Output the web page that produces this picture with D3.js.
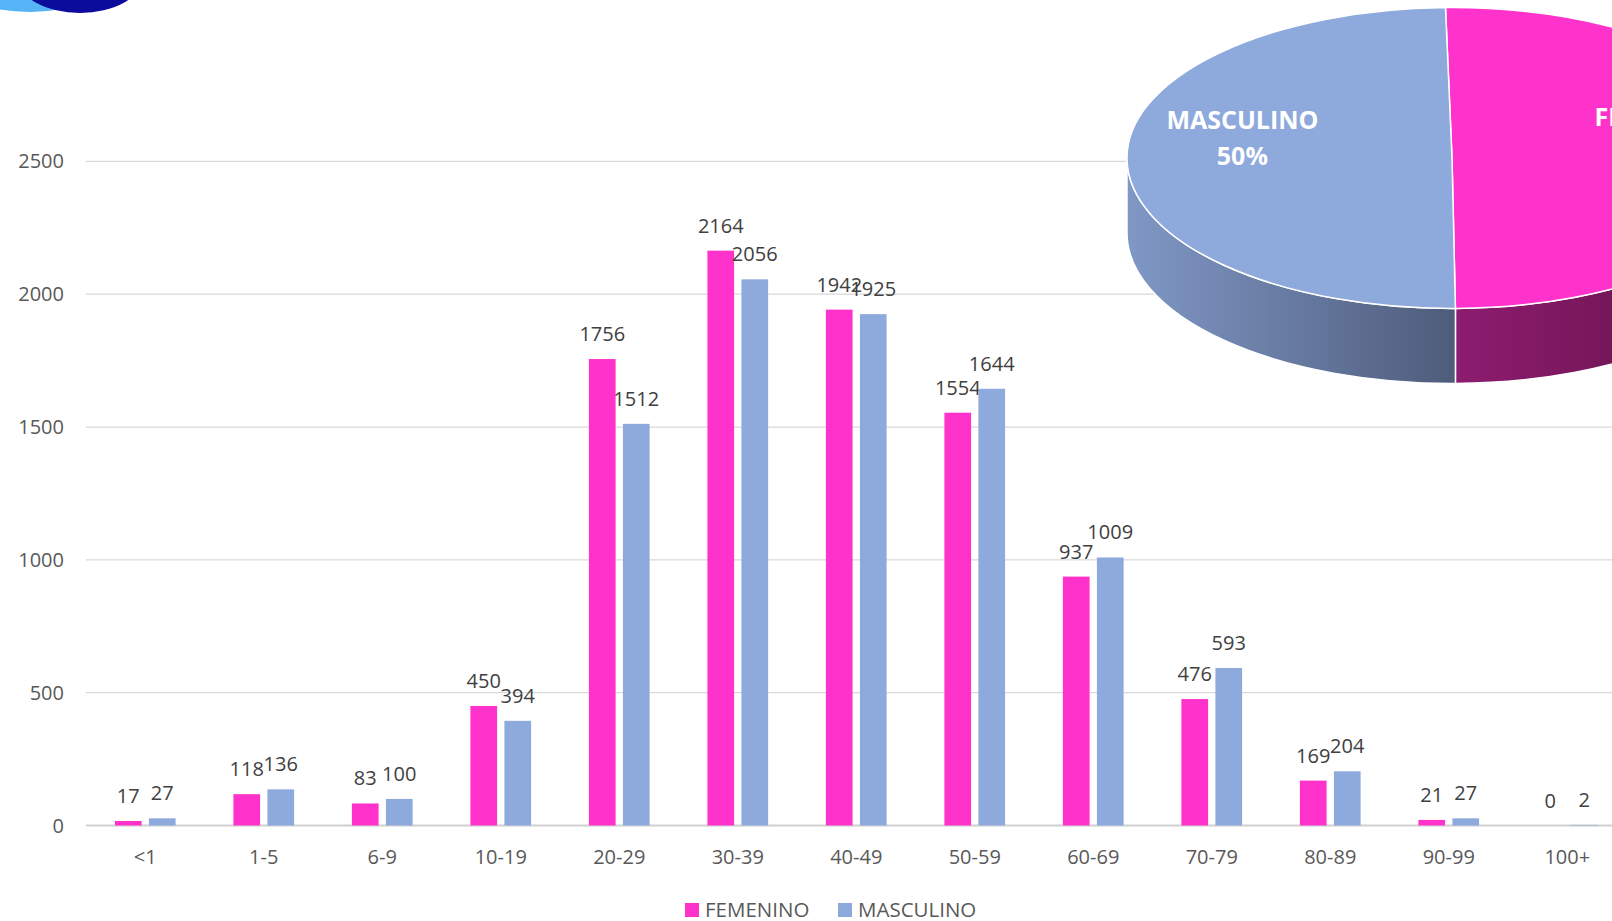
<!DOCTYPE html>
<html>
<head>
<meta charset="utf-8">
<script src="https://cdn.jsdelivr.net/npm/d3@7"></script>
<style>
  body { margin: 0; background: #fff; }
  svg { display: block; }
  text { font-family: "Open Sans", "Noto Sans", sans-serif; }
</style>
</head>
<body>
<svg id="chart" width="1612" height="921"></svg>
<script>
var categories = ["<1", "1-5", "6-9", "10-19", "20-29", "30-39", "40-49", "50-59", "60-69", "70-79", "80-89", "90-99", "100+"];
var femenino = [17, 118, 83, 450, 1756, 2164, 1942, 1554, 937, 476, 169, 21, 0];
var masculino = [27, 136, 100, 394, 1512, 2056, 1925, 1644, 1009, 593, 204, 27, 2];
var seriesNames = ["FEMENINO", "MASCULINO"];
var yTicks = [0, 500, 1000, 1500, 2000, 2500];

var colors = ["#FF33CC", "#8EA9DB"];
var sideColors = [["#8e1c70", "#5c1142"], ["#8098c6", "#4e5c7b"]];

var width = 1612, height = 921;
var svg = d3.select("#chart");

// logo fragment in the corner
svg.append("ellipse").attr("cx", 30).attr("cy", -26).attr("rx", 85).attr("ry", 38).attr("fill", "#55b4f6");
svg.append("ellipse").attr("cx", 80).attr("cy", -22).attr("rx", 62).attr("ry", 35).attr("fill", "#0b0b9c");

// ---- bar chart ----
var x = d3.scaleBand()
    .domain(categories)
    .range([86, 86 + 118.5 * categories.length]);

var y = d3.scaleLinear()
    .domain([0, 2500])
    .range([825.5, 161.4]);

var x1 = d3.scaleBand()
    .domain(seriesNames)
    .range([0, 60.7])
    .paddingInner(0.215);

var grid = svg.append("g");
grid.selectAll("line")
    .data(yTicks)
    .enter()
    .append("line")
      .attr("x1", 86)
      .attr("x2", width)
      .attr("y1", function(d) { return y(d); })
      .attr("y2", function(d) { return y(d); })
      .attr("stroke", function(d) { return d == 0 ? "#d0d0d0" : "#d9d9d9"; })
      .attr("stroke-width", function(d) { return d == 0 ? 2 : 1.3; });

svg.append("g").selectAll("text")
    .data(yTicks)
    .enter()
    .append("text")
      .attr("x", 64)
      .attr("y", function(d) { return y(d); })
      .attr("dy", "0.35em")
      .attr("text-anchor", "end")
      .attr("font-size", 20)
      .attr("fill", "#595959")
      .text(function(d) { return d; });

svg.append("g").selectAll("text")
    .data(categories)
    .enter()
    .append("text")
      .attr("x", function(d) { return x(d) + x.bandwidth() / 2; })
      .attr("y", 857)
      .attr("dy", "0.35em")
      .attr("text-anchor", "middle")
      .attr("font-size", 20)
      .attr("fill", "#595959")
      .text(function(d) { return d; });

var rows = categories.map(function(c, i) {
  return { cat: c, values: [femenino[i], masculino[i]] };
});

var groups = svg.append("g").selectAll("g")
    .data(rows)
    .enter()
    .append("g")
      .attr("transform", function(d) {
        return "translate(" + (x(d.cat) + x.bandwidth() / 2 - 30.35) + ",0)";
      });

var bars = groups.selectAll("g")
    .data(function(d) {
      return d.values.map(function(v, j) { return { name: seriesNames[j], value: v, j: j }; });
    })
    .enter()
    .append("g");

bars.append("rect")
    .attr("x", function(d) { return x1(d.name); })
    .attr("y", function(d) { return y(d.value); })
    .attr("width", x1.bandwidth())
    .attr("height", function(d) { return y(0) - y(d.value); })
    .attr("fill", function(d) { return colors[d.j]; });

bars.append("text")
    .attr("x", function(d) { return x1(d.name) + x1.bandwidth() / 2; })
    .attr("y", function(d) { return y(d.value) - 18; })
    .attr("text-anchor", "middle")
    .attr("font-size", 20)
    .attr("fill", "#404040")
    .text(function(d) { return d.value; });

// legend
var legend = svg.append("g").selectAll("g")
    .data(seriesNames)
    .enter()
    .append("g")
      .attr("transform", function(d, i) { return "translate(" + (685 + i * 153) + ",903)"; });
legend.append("rect")
    .attr("width", 14).attr("height", 14)
    .attr("fill", function(d, i) { return colors[i]; });
legend.append("text")
    .attr("x", 20).attr("y", 7)
    .attr("dy", "0.36em")
    .attr("font-size", 20.5)
    .attr("fill", "#595959")
    .text(function(d) { return d; });

// ---- 3D pie ----
var totals = [d3.sum(femenino), d3.sum(masculino)];
var cx = 1452, cy = 158, rx = 325, ry = 150.5, depth = 75;
var off = -0.02;

var pie = d3.pie().sort(null).startAngle(off).endAngle(2 * Math.PI + off);
var slices = pie(totals);
var pct = d3.format(".0%");
var total = d3.sum(totals);

function px(a) { return cx + rx * Math.sin(a); }
function py(a, dz) { return cy - ry * Math.cos(a) + (dz || 0); }

var defs = svg.append("defs");
sideColors.forEach(function(c, i) {
  var g = defs.append("linearGradient").attr("id", "side" + i)
      .attr("x1", "0").attr("x2", "1").attr("y1", "0").attr("y2", "0");
  g.append("stop").attr("offset", "0").attr("stop-color", c[0]);
  g.append("stop").attr("offset", "1").attr("stop-color", c[1]);
});

var pieG = svg.append("g");

// sides (only the front half of the rim is visible)
slices.forEach(function(s, i) {
  var a0 = Math.max(s.startAngle, Math.PI / 2);
  var a1 = Math.min(s.endAngle, 3 * Math.PI / 2);
  if (a1 <= a0) return;
  var large = (a1 - a0) > Math.PI ? 1 : 0;
  var p = "M" + px(a0) + "," + py(a0) +
    " A" + rx + "," + ry + " 0 " + large + " 1 " + px(a1) + "," + py(a1) +
    " L" + px(a1) + "," + py(a1, depth) +
    " A" + rx + "," + ry + " 0 " + large + " 0 " + px(a0) + "," + py(a0, depth) + " Z";
  pieG.append("path")
      .attr("d", p)
      .attr("fill", "url(#side" + i + ")")
      .attr("stroke", "#fff")
      .attr("stroke-width", 1.5);
});

// tops
slices.forEach(function(s, i) {
  var large = (s.endAngle - s.startAngle) > Math.PI ? 1 : 0;
  var p = "M" + cx + "," + cy +
    " L" + px(s.startAngle) + "," + py(s.startAngle) +
    " A" + rx + "," + ry + " 0 " + large + " 1 " + px(s.endAngle) + "," + py(s.endAngle) + " Z";
  pieG.append("path")
      .attr("d", p)
      .attr("fill", colors[i])
      .attr("stroke", "#fff")
      .attr("stroke-width", 1.5);
});

// labels
slices.forEach(function(s, i) {
  var mid = (s.startAngle + s.endAngle) / 2;
  var lx = cx + 0.645 * rx * Math.sin(mid);
  var ly = cy - 0.64 * ry * Math.cos(mid) - 28;
  var t = pieG.append("text")
      .attr("x", lx).attr("y", ly)
      .attr("text-anchor", "middle")
      .attr("font-size", 25)
      .attr("font-weight", "bold")
      .attr("fill", "#fff");
  t.append("tspan").attr("x", lx).attr("dy", "-0.1em").text(seriesNames[i]);
  t.append("tspan").attr("x", lx).attr("dy", "1.45em").text(pct(totals[i] / total));
});
</script>
</body>
</html>
